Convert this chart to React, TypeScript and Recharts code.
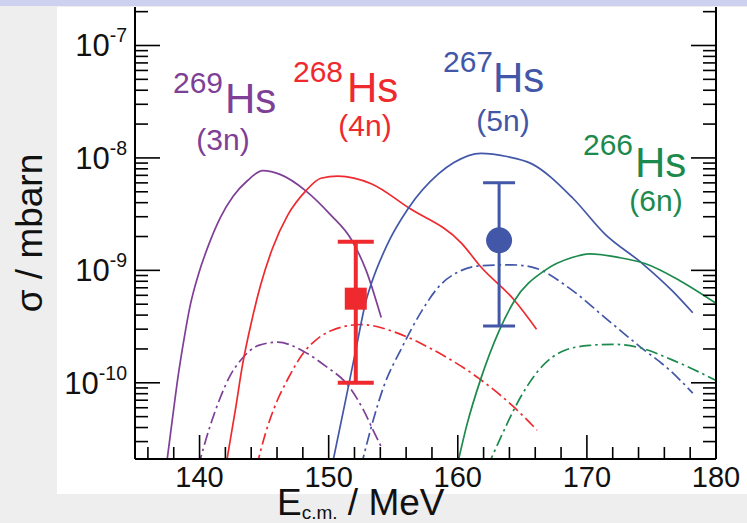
import { ComposedChart, Line, Scatter, ErrorBar, XAxis, YAxis } from 'recharts'

const PURPLE = '#7e3f97'
const RED = '#ee2a2e'
const BLUE = '#4257a8'
const GREEN = '#1b8a4c'
const FONT = '"Liberation Sans", Arial, Helvetica, sans-serif'

// axis ticks
const X_MAJOR = [140, 150, 160, 170, 180]
const X_TICKS = [136, 138, 140, 142, 144, 146, 148, 150, 152, 154, 156, 158, 160, 162, 164, 166, 168, 170, 172, 174, 176, 178, 180]
const Y_TICKS = [
  3e-11, 4e-11, 5e-11, 6e-11, 7e-11, 8e-11, 9e-11,
  1e-10, 2e-10, 3e-10, 4e-10, 5e-10, 6e-10, 7e-10, 8e-10, 9e-10,
  1e-9, 2e-9, 3e-9, 4e-9, 5e-9, 6e-9, 7e-9, 8e-9, 9e-9,
  1e-8, 2e-8, 3e-8, 4e-8, 5e-8, 6e-8, 7e-8, 8e-8, 9e-8,
  1e-7, 2e-7,
]

// [E (MeV), sigma (mbarn)]
const HS269_MAX: [number, number][] = [
  [137.33, 1.5e-11], [137.88, 4.6e-11], [138.35, 1.17e-10], [138.81, 2.5e-10], [139.28, 4.9e-10],
  [139.9, 9.1e-10], [140.68, 1.66e-9], [141.61, 2.95e-9], [142.63, 4.6e-9], [143.72, 6.3e-9],
  [144.9, 7.7e-9], [146.28, 7.1e-9], [148.23, 5.1e-9], [150.17, 3.1e-9], [151.73, 1.9e-9],
  [152.9, 1.0e-9], [154.07, 3.8e-10],
]
const HS269_CALC: [number, number][] = [
  [139.9, 1.8e-11], [140.84, 4.2e-11], [141.61, 7.4e-11], [142.39, 1.17e-10], [143.17, 1.58e-10],
  [144.57, 2.15e-10], [146.05, 2.3e-10], [148.07, 1.9e-10], [149.79, 1.4e-10], [151.5, 9.5e-11],
  [152.67, 5.8e-11], [153.44, 3.8e-11], [154.07, 2.7e-11],
]
const HS268_MAX: [number, number][] = [
  [142.1, 2e-11], [142.78, 5.8e-11], [143.33, 1.45e-10], [143.95, 3.2e-10], [144.73, 7.4e-10],
  [145.66, 1.58e-9], [146.83, 3.1e-9], [148.23, 5.1e-9], [149.4, 6.6e-9], [150.72, 6.9e-9],
  [153.3, 5.9e-9], [156.2, 3.6e-9], [160.3, 1.74e-9], [161.8, 1.07e-9], [164.4, 5.4e-10],
  [166.1, 3e-10],
]
const HS268_CALC: [number, number][] = [
  [144.42, 1.8e-11], [145.12, 3.6e-11], [145.74, 5.8e-11], [146.91, 1.12e-10], [148.07, 1.86e-10],
  [149.01, 2.4e-10], [150.18, 2.9e-10], [152.51, 3.3e-10], [155.39, 2.75e-10], [157.96, 2.0e-10],
  [161.61, 1.1e-10], [164.4, 6e-11], [166.13, 3.8e-11],
]
const HS267_MAX: [number, number][] = [
  [150.25, 1.8e-11], [151.3, 6.9e-11], [152.1, 1.95e-10], [152.9, 5.4e-10], [153.3, 7.6e-10],
  [154.5, 1.66e-9], [156.2, 3.6e-9], [158.5, 7.2e-9], [159.7, 9.1e-9], [161.8, 1.1e-8],
  [163.8, 1.03e-8], [165.7, 8.9e-9], [168.9, 4.4e-9], [171.4, 2.1e-9], [174.3, 1.15e-9],
  [176.6, 6.6e-10], [178.2, 4.2e-10],
]
const HS267_CALC: [number, number][] = [
  [152.51, 1.8e-11], [153.29, 4e-11], [154.3, 9.5e-11], [155.62, 2.0e-10], [157.18, 4.3e-10],
  [158.5, 7.1e-10], [160.29, 1.0e-9], [161.85, 1.1e-9], [164.18, 1.12e-9], [165.74, 1.07e-9],
  [168.9, 6.6e-10], [171.4, 3.8e-10], [174.1, 2.1e-10], [176.4, 1.3e-10], [178.2, 8.1e-11],
]
const HS266_MAX: [number, number][] = [
  [159.94, 1.8e-11], [160.7, 4.2e-11], [161.8, 1.1e-10], [163.2, 2.9e-10], [164.4, 5.4e-10],
  [166.75, 1.0e-9], [168.85, 1.3e-9], [170.2, 1.4e-9], [172.5, 1.3e-9], [174.5, 1.15e-9],
  [177.2, 8.1e-10], [180, 5.1e-10],
]
const HS266_CALC: [number, number][] = [
  [162.31, 1.8e-11], [163.4, 3.4e-11], [164.42, 6e-11], [166.28, 1.3e-10], [168.3, 1.95e-10],
  [170.2, 2.15e-10], [172.0, 2.2e-10], [174.1, 2.05e-10], [176.6, 1.6e-10], [180, 1.05e-10],
]

// measured points: [E, sigma, low, high]
const HS268_EXP: [number, number, number, number][] = [[152.1, 5.6e-10, 1.0e-10, 1.8e-9]]
const HS267_EXP: [number, number, number, number][] = [[163.2, 1.85e-9, 3.2e-10, 6.0e-9]]

const toRows = (pts: [number, number][]) => pts.map(([e, s]) => ({ e, s }))
const toExp = (pts: [number, number, number, number][]) =>
  pts.map(([e, s, lo, hi]) => ({ e, s, err: [s - lo, hi - s] }))

const isMajor = (v: number) => Math.abs(Math.log10(v) - Math.round(Math.log10(v))) < 1e-6

const LeftTick = (props: any) => {
  const { x, y, payload } = props
  const major = isMajor(payload.value)
  return (
    <g>
      <line x1={x} x2={x + (major ? 25 : 13)} y1={y} y2={y} stroke="#000" strokeWidth={1.6} />
      {major && (
        <text x={x - 8} y={y + 11} textAnchor="end" fontFamily={FONT} fill="#111">
          <tspan fontSize={31}>10</tspan>
          <tspan fontSize={19.5} dy={-14}>{Math.round(Math.log10(payload.value))}</tspan>
        </text>
      )}
    </g>
  )
}

const RightTick = (props: any) => {
  const { x, y, payload } = props
  const major = isMajor(payload.value)
  return <line x1={x} x2={x - (major ? 25 : 13)} y1={y} y2={y} stroke="#000" strokeWidth={1.6} />
}

const BottomTick = (props: any) => {
  const { x, y, payload } = props
  const major = X_MAJOR.includes(payload.value)
  return (
    <g>
      <line x1={x} x2={x} y1={y} y2={y - (major ? 24 : 12)} stroke="#000" strokeWidth={1.6} />
      {major && (
        <text x={x} y={y + 28} textAnchor="middle" fontFamily={FONT} fontSize={29} fill="#111">
          {payload.value}
        </text>
      )}
    </g>
  )
}

const Square = (props: any) => (
  <rect x={props.cx - 11} y={props.cy - 11} width={22} height={22} fill={RED} />
)
const Dot = (props: any) => <circle cx={props.cx} cy={props.cy} r={13} fill={BLUE} />

const DASH_DOT = '12 4 2.5 4'
const LW = 1.7

export default function App() {
  const curve = (rows: [number, number][], color: string, dashed: boolean) => (
    <Line
      yAxisId="left"
      data={toRows(rows)}
      dataKey="s"
      type="monotone"
      stroke={color}
      strokeWidth={LW}
      strokeDasharray={dashed ? DASH_DOT : undefined}
      dot={false}
      isAnimationActive={false}
    />
  )
  return (
    <div style={{ position: 'absolute', left: 0, top: 0, width: 747, height: 523, background: '#eeeeee', overflow: 'hidden' }}>
      <div style={{ position: 'absolute', left: 0, top: 0, width: 747, height: 6, background: '#cdd0ee' }} />
      <div style={{ position: 'absolute', left: 57, top: 7, width: 690, height: 487, background: '#ffffff' }} />
      <div style={{ position: 'absolute', left: 0, top: 0 }}>
        <ComposedChart width={747} height={523} margin={{ top: 7, right: 11, bottom: 24, left: 75 }}>
          <XAxis
            type="number"
            dataKey="e"
            domain={[135, 180]}
            ticks={X_TICKS}
            interval={0}
            allowDataOverflow
            height={40}
            tickSize={0}
            tickMargin={0}
            tick={<BottomTick />}
            axisLine={{ stroke: '#000', strokeWidth: 2 }}
          />
          <YAxis
            yAxisId="left"
            type="number"
            scale="log"
            domain={[2.1e-11, 2.2e-7]}
            ticks={Y_TICKS}
            interval={0}
            allowDataOverflow
            width={60}
            tickSize={0}
            tickMargin={0}
            tick={<LeftTick />}
            axisLine={{ stroke: '#000', strokeWidth: 2 }}
          />
          <YAxis
            yAxisId="right"
            orientation="right"
            type="number"
            scale="log"
            domain={[2.1e-11, 2.2e-7]}
            ticks={Y_TICKS}
            interval={0}
            allowDataOverflow
            width={20}
            tickSize={0}
            tickMargin={0}
            tick={<RightTick />}
            axisLine={{ stroke: '#000', strokeWidth: 2 }}
          />
          {curve(HS269_MAX, PURPLE, false)}
          {curve(HS269_CALC, PURPLE, true)}
          {curve(HS268_MAX, RED, false)}
          {curve(HS268_CALC, RED, true)}
          {curve(HS267_MAX, BLUE, false)}
          {curve(HS267_CALC, BLUE, true)}
          {curve(HS266_MAX, GREEN, false)}
          {curve(HS266_CALC, GREEN, true)}
          <Scatter yAxisId="left" data={toExp(HS268_EXP)} dataKey="s" shape={<Square />} isAnimationActive={false}>
            <ErrorBar dataKey="err" direction="y" width={18} strokeWidth={4} stroke={RED} />
          </Scatter>
          <Scatter yAxisId="left" data={toExp(HS267_EXP)} dataKey="s" shape={<Dot />} isAnimationActive={false}>
            <ErrorBar dataKey="err" direction="y" width={16} strokeWidth={3} stroke={BLUE} />
          </Scatter>
        </ComposedChart>
      </div>
      <svg width={747} height={523} style={{ position: 'absolute', left: 0, top: 0, pointerEvents: 'none' }} fontFamily={FONT}>
        <text x={173} y={93} fontSize={30} fill={PURPLE}>269</text>
        <text x={225} y={113} fontSize={42} fill={PURPLE}>Hs</text>
        <text x={223} y={150} fontSize={30} fill={PURPLE} textAnchor="middle">(3n)</text>

        <text x={293} y={82} fontSize={30} fill={RED}>268</text>
        <text x={347} y={102} fontSize={42} fill={RED}>Hs</text>
        <text x={365} y={136} fontSize={30} fill={RED} textAnchor="middle">(4n)</text>

        <text x={443} y={72} fontSize={30} fill={BLUE}>267</text>
        <text x={493} y={92} fontSize={42} fill={BLUE}>Hs</text>
        <text x={503} y={131} fontSize={30} fill={BLUE} textAnchor="middle">(5n)</text>

        <text x={583} y={155} fontSize={30} fill={GREEN}>266</text>
        <text x={635} y={177} fontSize={42} fill={GREEN}>Hs</text>
        <text x={656} y={211} fontSize={30} fill={GREEN} textAnchor="middle">(6n)</text>

        <text x={277} y={515} fontSize={37} fill="#111">
          E<tspan fontSize={19} dy={4}>c.m.</tspan><tspan dy={-4}> / MeV</tspan>
        </text>
        <text x={29} y={233} fontSize={37} fill="#111" textAnchor="middle" dominantBaseline="central" transform="rotate(-90 29 233)">
          σ / mbarn
        </text>
      </svg>
    </div>
  )
}
